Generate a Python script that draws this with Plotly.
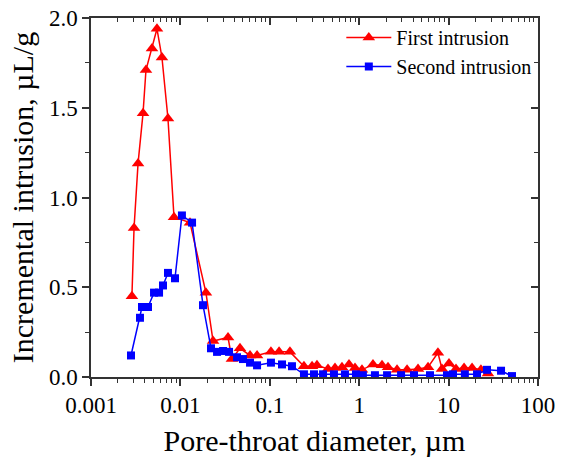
import plotly.graph_objects as go

# First intrusion (diameter in µm, incremental intrusion in µL/g)
first_d = [0.00287, 0.00303, 0.00336, 0.00382, 0.00412, 0.00481, 0.00547, 0.00622, 0.00726, 0.00848,
           0.0128, 0.0193, 0.0232, 0.0341, 0.0377, 0.0464, 0.0601, 0.0720, 0.103, 0.127, 0.168,
           0.241, 0.297, 0.337, 0.448, 0.536, 0.642, 0.769, 0.898, 1.074, 1.426, 1.80, 2.10,
           2.65, 3.43, 4.55, 5.89, 7.60, 8.43, 10.1, 12.1, 14.9, 18.3, 23.0, 27.6]
first_v = [0.45, 0.83, 1.19, 1.47, 1.71, 1.83, 1.94, 1.78, 1.44, 0.89,
           0.86, 0.47, 0.20, 0.22, 0.10, 0.16, 0.12, 0.12, 0.14, 0.14, 0.14,
           0.06, 0.06, 0.065, 0.045, 0.05, 0.055, 0.07, 0.05, 0.04, 0.07, 0.065, 0.055,
           0.04, 0.04, 0.045, 0.055, 0.135, 0.045, 0.075, 0.045, 0.05, 0.05, 0.04, 0.02]

# Second intrusion
second_d = [0.00280, 0.00353, 0.00372, 0.00434, 0.00507, 0.00577, 0.00639, 0.00726, 0.00870, 0.0104,
            0.0135, 0.0179, 0.0220, 0.0257, 0.0300, 0.0350, 0.0430, 0.0501, 0.0601, 0.0720,
            0.103, 0.137, 0.177, 0.241, 0.312, 0.394, 0.522, 0.693, 0.920, 1.10, 1.50, 2.05,
            2.94, 4.10, 6.19, 9.60, 11.2, 15.2, 20.8, 26.9, 38.6, 51.2]
second_v = [0.12, 0.33, 0.39, 0.39, 0.47, 0.47, 0.51, 0.58, 0.55, 0.90,
            0.86, 0.40, 0.16, 0.14, 0.145, 0.14, 0.11, 0.10, 0.08, 0.065,
            0.08, 0.07, 0.06, 0.015, 0.015, 0.015, 0.015, 0.015, 0.015, 0.01, 0.01, 0.01,
            0.01, 0.01, 0.01, 0.01, 0.015, 0.015, 0.015, 0.04, 0.035, 0.005]

FONT = "Liberation Serif, Times New Roman, serif"
AX = "#333333"

fig = go.Figure()
fig.add_trace(go.Scatter(x=first_d, y=first_v, mode="lines+markers", name="First intrusion",
                         line=dict(color="#ff0000", width=1.5),
                         marker=dict(symbol="triangle-up", size=11, color="#ff0000")))
fig.add_trace(go.Scatter(x=second_d, y=second_v, mode="lines+markers", name="Second intrusion",
                         line=dict(color="#0000ff", width=1.5),
                         marker=dict(symbol="square", size=8, color="#0000ff")))
fig.add_trace(go.Scatter(x=[], y=[], xaxis="x2", yaxis="y2", showlegend=False, hoverinfo="skip"))

fig.update_layout(
    width=564, height=457,
    margin=dict(l=91, r=26, t=18, b=80),
    paper_bgcolor="white", plot_bgcolor="white",
    font=dict(family=FONT, color="black"),
    xaxis=dict(type="log", range=[-3, 2], dtick=1, ticks="outside", ticklen=7, tickwidth=1.5,
               tickcolor=AX, showline=True, linecolor=AX, linewidth=1.5, showgrid=False,
               zeroline=False, automargin=False, tickfont=dict(size=23, family=FONT),
               minor=dict(ticks="outside", ticklen=4, tickcolor=AX, tickwidth=1, showgrid=False),
               title=dict(text="Pore-throat diameter, µm", font=dict(size=30, family=FONT), standoff=18)),
    yaxis=dict(range=[0, 2], dtick=0.5, tickformat=".1f", ticks="outside", ticklen=7, tickwidth=1.5,
               tickcolor=AX, showline=True, linecolor=AX, linewidth=1.5, showgrid=False,
               zeroline=False, automargin=False, tickfont=dict(size=23, family=FONT),
               minor=dict(ticks="outside", ticklen=4, dtick=0.25, tickcolor=AX, tickwidth=1, showgrid=False),
               title=dict(text="Incremental intrusion, µL/g", font=dict(size=30, family=FONT), standoff=6)),
    xaxis2=dict(type="log", range=[-3, 2], dtick=1, overlaying="x", side="top", ticks="inside",
                ticklen=7, tickwidth=1.5, tickcolor=AX, showline=True, linecolor=AX, linewidth=1.5,
                showgrid=False, showticklabels=False, zeroline=False, automargin=False,
                minor=dict(ticks="inside", ticklen=4, tickcolor=AX, tickwidth=1, showgrid=False)),
    yaxis2=dict(range=[0, 2], dtick=0.5, overlaying="y", side="right", ticks="inside",
                ticklen=7, tickwidth=1.5, tickcolor=AX, showline=True, linecolor=AX, linewidth=1.5,
                showgrid=False, showticklabels=False, zeroline=False, automargin=False,
                minor=dict(ticks="inside", ticklen=4, dtick=0.25, tickcolor=AX, tickwidth=1, showgrid=False)),
    legend=dict(x=0.56, y=1.0, xanchor="left", yanchor="top", bgcolor="rgba(0,0,0,0)",
                font=dict(size=20, family=FONT), itemwidth=45, tracegroupgap=0),
    showlegend=True,
)

fig.write_html("out.html", config={"displayModeBar": False},
               post_script="document.body.style.margin='0px';")
